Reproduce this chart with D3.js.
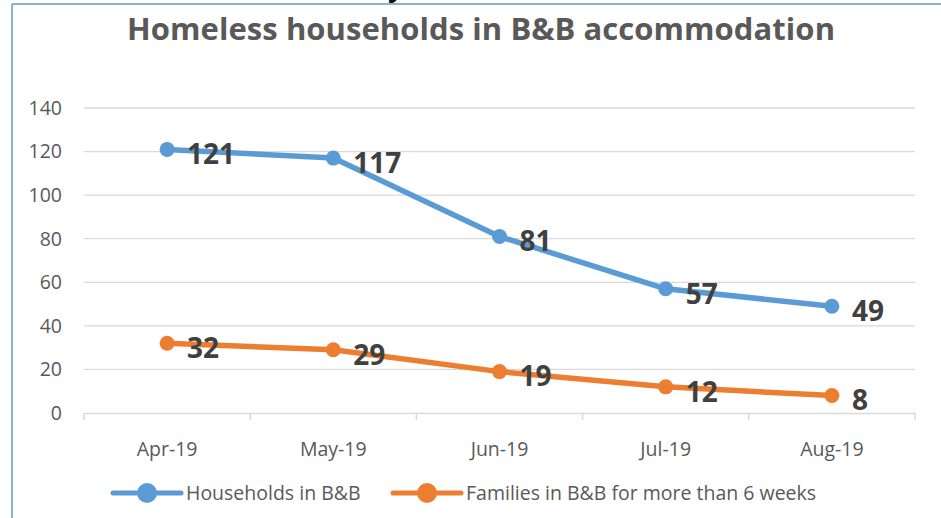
<!doctype html>
<html>
<head>
<meta charset="utf-8">
<title>Homeless households in B&amp;B accommodation</title>
<script src="https://d3js.org/d3.v7.min.js"></script>
<style>
body { margin: 0; background: white; }
svg { display: block; font-family: "Open Sans", "Noto Sans", sans-serif; }
</style>
</head>
<body>
<div id="chart1"></div>
<script>
// data
var months = ["Apr-19", "May-19", "Jun-19", "Jul-19", "Aug-19"];
var households = [121, 117, 81, 57, 49];
var families = [32, 29, 19, 12, 8];
var yTicks = [0, 20, 40, 60, 80, 100, 120, 140];
var seriesNames = ["Households in B&B", "Families in B&B for more than 6 weeks"];
var seriesColors = ["#5b9bd5", "#ed7d31"];

var W = 941, H = 518;
var margin = { top: 108, right: 26, bottom: 105, left: 84 };
var width = W - margin.left - margin.right,
    height = H - margin.top - margin.bottom;

var svg = d3.select("#chart1").append("svg")
  .attr("width", W)
  .attr("height", H);

// chart frame (only top and left edges are visible)
svg.append("line").attr("x1", 12).attr("x2", W).attr("y1", 4).attr("y2", 4)
  .attr("stroke", "#5b9bd5").attr("stroke-width", 1.5);
svg.append("line").attr("x1", 12).attr("x2", 12).attr("y1", 4).attr("y2", H)
  .attr("stroke", "#5b9bd5").attr("stroke-width", 1.5);

// bit of text cut off above the chart
svg.append("text").attr("x", 388).attr("y", -4)
  .attr("font-size", "28px").attr("font-weight", "bold").attr("fill", "#111")
  .text("y");

svg.append("text")
  .attr("x", 481).attr("y", 40)
  .attr("text-anchor", "middle")
  .attr("font-size", "31px")
  .attr("font-weight", "bold")
  .attr("fill", "#595959")
  .attr("textLength", 708)
  .text("Homeless households in B&B accommodation");

var g = svg.append("g")
  .attr("transform", "translate(" + margin.left + "," + margin.top + ")");

var x = d3.scaleBand().domain(months).range([0, width]);
var y = d3.scaleLinear().domain([0, 140]).range([height, 0]);

// gridlines
g.selectAll("line.grid").data(yTicks.filter(function(d) { return d > 0; }))
  .enter().append("line")
  .attr("class", "grid")
  .attr("x1", 0).attr("x2", width)
  .attr("y1", function(d) { return y(d); })
  .attr("y2", function(d) { return y(d); })
  .attr("stroke", "#d9d9d9").attr("stroke-width", 1.3);

// y axis labels
g.selectAll("text.ytick").data(yTicks)
  .enter().append("text")
  .attr("class", "ytick")
  .attr("x", -22)
  .attr("y", function(d) { return y(d); })
  .attr("dy", "0.35em")
  .attr("text-anchor", "end")
  .attr("font-size", "19.5px")
  .attr("fill", "#595959")
  .text(function(d) { return d; });

// x axis
var xAxis = g.append("g")
  .attr("transform", "translate(0," + height + ")")
  .call(d3.axisBottom(x).tickSize(0).tickPadding(29));
xAxis.select(".domain").attr("stroke", "#d9d9d9").attr("stroke-width", 1.5);
xAxis.selectAll("text").attr("font-size", "19.5px").attr("fill", "#595959")
  .attr("font-family", "\"Open Sans\", sans-serif");
var bounds = months.map(function(m) { return x(m); }).concat([width]);
xAxis.selectAll("line.sep").data(bounds).enter().append("line")
  .attr("class", "sep")
  .attr("x1", function(d) { return d; }).attr("x2", function(d) { return d; })
  .attr("y1", 0).attr("y2", 7)
  .attr("stroke", "#d9d9d9").attr("stroke-width", 1.5);

var cx = function(d, i) { return x(months[i]) + x.bandwidth() / 2; };
var line = d3.line()
  .x(function(d, i) { return cx(d, i); })
  .y(function(d) { return y(d); });

[households, families].forEach(function(series, s) {
  g.append("path")
    .datum(series)
    .attr("fill", "none")
    .attr("stroke", seriesColors[s])
    .attr("stroke-width", 5.5)
    .attr("stroke-linejoin", "round")
    .attr("d", line);

  g.selectAll("circle.s" + s).data(series).enter().append("circle")
    .attr("class", "s" + s)
    .attr("cx", cx)
    .attr("cy", function(d) { return y(d); })
    .attr("r", 7.5)
    .attr("fill", seriesColors[s]);

  g.selectAll("text.l" + s).data(series).enter().append("text")
    .attr("class", "l" + s)
    .attr("x", function(d, i) { return cx(d, i) + 20; })
    .attr("y", function(d) { return y(d) + 5; })
    .attr("dy", "0.35em")
    .attr("font-size", "28px")
    .attr("font-weight", "bold")
    .attr("fill", "#404040")
    .text(function(d) { return d; });
});

// legend
var legendX = [113, 393];
var legend = svg.selectAll("g.legend").data(seriesNames).enter().append("g")
  .attr("class", "legend")
  .attr("transform", function(d, i) { return "translate(" + legendX[i] + ",493)"; });
legend.append("line")
  .attr("x1", 0).attr("x2", 68).attr("y1", 0).attr("y2", 0)
  .attr("stroke", function(d, i) { return seriesColors[i]; })
  .attr("stroke-width", 5).attr("stroke-linecap", "round");
legend.append("circle")
  .attr("cx", 34).attr("cy", 0).attr("r", 10)
  .attr("fill", function(d, i) { return seriesColors[i]; });
legend.append("text")
  .attr("x", 73).attr("y", 0).attr("dy", "0.35em")
  .attr("font-size", "19.5px").attr("fill", "#595959")
  .text(function(d) { return d; });
</script>
</body>
</html>
